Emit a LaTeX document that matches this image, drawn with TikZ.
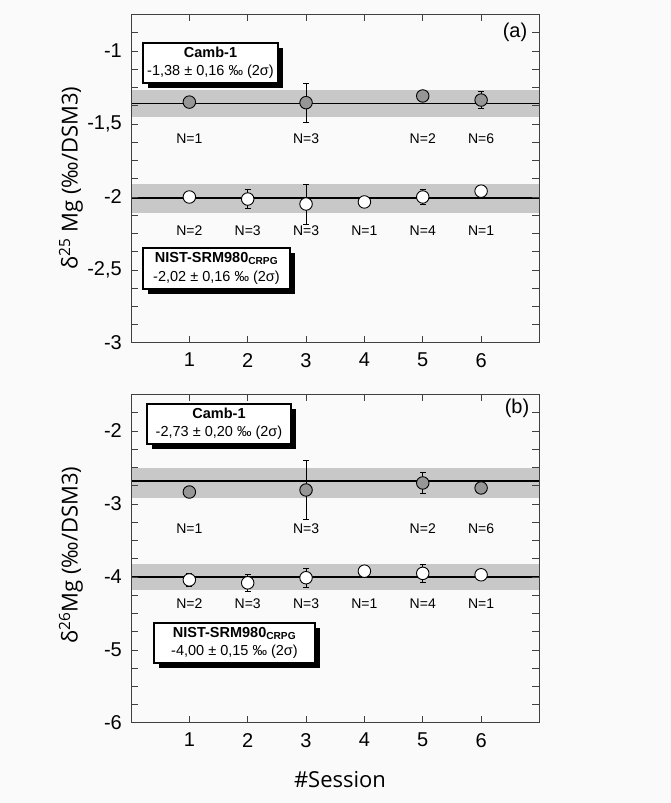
\documentclass[tikz,border=0pt]{standalone}
\usepackage{fontspec}
\setmainfont{Liberation Sans}
\newfontfamily\titlefont{Open Sans}
\usepackage{tikz}
\usepackage{xcolor}
\usetikzlibrary{arrows.meta, shadows}
\definecolor{bandgray}{RGB}{200, 200, 200}
\definecolor{dotgray}{RGB}{150, 150, 150}
\definecolor{bggray}{RGB}{250, 250, 250}
\tikzset{
    frame/.style={draw=black!75, line width=1pt},
    axtick/.style={draw=black!75, line width=0.8pt},
    band/.style={fill=bandgray, draw=none},
    meanline/.style={line width=1.5pt},
    dot/.style={circle, draw, line width=0.9pt, inner sep=0pt, minimum size=12.5pt},
    cambdot/.style={dot, fill=dotgray},
    nistdot/.style={dot, fill=white},
    errbar/.style={line width=0.8pt, {Bar[width=6pt]}-{Bar[width=6pt]}},
    ticklabel/.style={font=\fontsize{20}{22}\selectfont, inner sep=0pt},
    nlabel/.style={font=\fontsize{14}{16}\selectfont, inner sep=0pt},
    axlabel/.style={font=\titlefont\fontsize{22}{24}\selectfont, inner sep=0pt},
    infobox/.style={draw, line width=1.2pt, fill=white, align=center, inner sep=1pt,
        font=\fontsize{14.5}{18.5}\selectfont,
        drop shadow={fill=black, opacity=1, shadow xshift=5pt, shadow yshift=-5pt}}
}

\begin{document}
\begin{tikzpicture}[x=1pt, y=1pt]
    \fill[bggray] (0,0) rectangle (671,803);
    \useasboundingbox (0,0) rectangle (671,803);

    % panel (a): delta 25
    \begin{scope}[shift={(131pt,898pt)}, x=58.35pt, y=146pt]
        \fill[band] (0,-1.27) rectangle (7,-1.45);
        \fill[band] (0,-1.91) rectangle (7,-2.11);
        \draw[meanline] (0,-1.36) -- (7,-1.36);
        \draw[meanline] (0,-2.007) -- (7,-2.007);
        \draw[frame] (0,-3) rectangle (7,-0.75);
        \foreach \k in {1,...,17} {
            \draw[axtick] (0,{-3+\k*0.125}) -- ++(7pt,0);
            \draw[axtick] (7,{-3+\k*0.125}) -- ++(-7pt,0);
        }
        \foreach \s in {1,...,6} {
            \draw[axtick] (\s,-3) -- ++(0,7pt);
            \draw[axtick] (\s,-0.75) -- ++(0,-7pt);
            \node[ticklabel, anchor=north] (xa\s) at ([yshift=-10pt]\s,-3) {\s};
        }
        \foreach \v/\t [count=\i] in {-1/{-1}, -1.5/{-1,5}, -2/{-2}, -2.5/{-2,5}, -3/{-3}}
            \node[ticklabel, anchor=east] (ya\i) at ([xshift=-9pt]0,\v) {\t};
        % error bars
        \foreach \s/\v/\e in {3/-1.354/0.137, 6/-1.336/0.062}
            \draw[errbar] (\s,\v-\e) -- (\s,\v+\e);
        \foreach \s/\v/\e in {2/-2.014/0.068, 3/-2.048/0.14, 5/-2.0/0.055}
            \draw[errbar] (\s,\v-\e) -- (\s,\v+\e);
        % points
        \foreach \s/\v in {1/-1.35, 3/-1.354, 5/-1.308, 6/-1.336}
            \node[cambdot] (ca\s) at (\s,\v) {};
        \foreach \s/\v in {1/-2.0, 2/-2.014, 3/-2.048, 4/-2.034, 5/-2.0, 6/-1.96}
            \node[nistdot] (na\s) at (\s,\v) {};
        \foreach \s/\n in {1/1, 3/3, 5/2, 6/6}
            \node[nlabel] (cna\s) at (\s,-1.60) {N=\n};
        \foreach \s/\n in {1/2, 2/3, 3/3, 4/1, 5/4, 6/1}
            \node[nlabel] (nna\s) at (\s,-2.233) {N=\n};
    \end{scope}
    \node[infobox, minimum width=135pt, minimum height=40pt] (cambA) at (210.5,740)
        {\textbf{Camb-1}\\-1,38 ± 0,16 ‰ (2σ)};
    \node[infobox, minimum width=147pt, minimum height=41pt] (nistA) at (216.5,534.5)
        {\textbf{NIST-SRM980\textsubscript{CRPG}}\\-2,02 ± 0,16 ‰ (2σ)};
    \node[ticklabel] (tagA) at (515,771) {(a)};
    \node[axlabel, rotate=90] (ylabA) at (71,625) {δ\textsuperscript{25} Mg (‰/DSM3)};

    % panel (b): delta 26
    \begin{scope}[shift={(131pt,518pt)}, x=58.35pt, y=73pt]
        \fill[band] (0,-2.507) rectangle (7,-2.918);
        \fill[band] (0,-3.82) rectangle (7,-4.18);
        \draw[meanline] (0,-2.685) -- (7,-2.685);
        \draw[meanline] (0,-4.0) -- (7,-4.0);
        \draw[frame] (0,-6) rectangle (7,-1.5);
        \foreach \k in {1,...,17} {
            \draw[axtick] (0,{-6+\k*0.25}) -- ++(7pt,0);
            \draw[axtick] (7,{-6+\k*0.25}) -- ++(-7pt,0);
        }
        \foreach \s in {1,...,6} {
            \draw[axtick] (\s,-6) -- ++(0,7pt);
            \draw[axtick] (\s,-1.5) -- ++(0,-7pt);
            \node[ticklabel, anchor=north] (xb\s) at ([yshift=-10pt]\s,-6) {\s};
        }
        \foreach \v [count=\i] in {-2,-3,-4,-5,-6}
            \node[ticklabel, anchor=east] (yb\i) at ([xshift=-9pt]0,\v) {\v};
        % error bars
        \foreach \s/\v/\e in {3/-2.808/0.41, 5/-2.712/0.15}
            \draw[errbar] (\s,\v-\e) -- (\s,\v+\e);
        \foreach \s/\v/\e in {1/-4.04/0.09, 2/-4.08/0.12, 3/-4.01/0.14, 5/-3.95/0.13}
            \draw[errbar] (\s,\v-\e) -- (\s,\v+\e);
        % points
        \foreach \s/\v in {1/-2.836, 3/-2.808, 5/-2.712, 6/-2.78}
            \node[cambdot] (cb\s) at (\s,\v) {};
        \foreach \s/\v in {1/-4.04, 2/-4.08, 3/-4.01, 4/-3.92, 5/-3.95, 6/-3.97}
            \node[nistdot] (nb\s) at (\s,\v) {};
        \foreach \s/\n in {1/1, 3/3, 5/2, 6/6}
            \node[nlabel] (cnb\s) at (\s,-3.34) {N=\n};
        \foreach \s/\n in {1/2, 2/3, 3/3, 4/1, 5/4, 6/1}
            \node[nlabel] (nnb\s) at (\s,-4.37) {N=\n};
    \end{scope}
    \node[infobox, minimum width=144pt, minimum height=40pt] (cambB) at (219,379)
        {\textbf{Camb-1}\\-2,73 ± 0,20 ‰ (2σ)};
    \node[infobox, minimum width=161pt, minimum height=40pt] (nistB) at (234.5,160)
        {\textbf{NIST-SRM980\textsubscript{CRPG}}\\-4,00 ± 0,15 ‰ (2σ)};
    \node[ticklabel] (tagB) at (517,395) {(b)};
    \node[axlabel, rotate=90] (ylabB) at (71,248) {δ\textsuperscript{26}Mg (‰/DSM3)};

    \node[axlabel] (xlab) at (340,23) {\#Session};
\end{tikzpicture}
\end{document}
